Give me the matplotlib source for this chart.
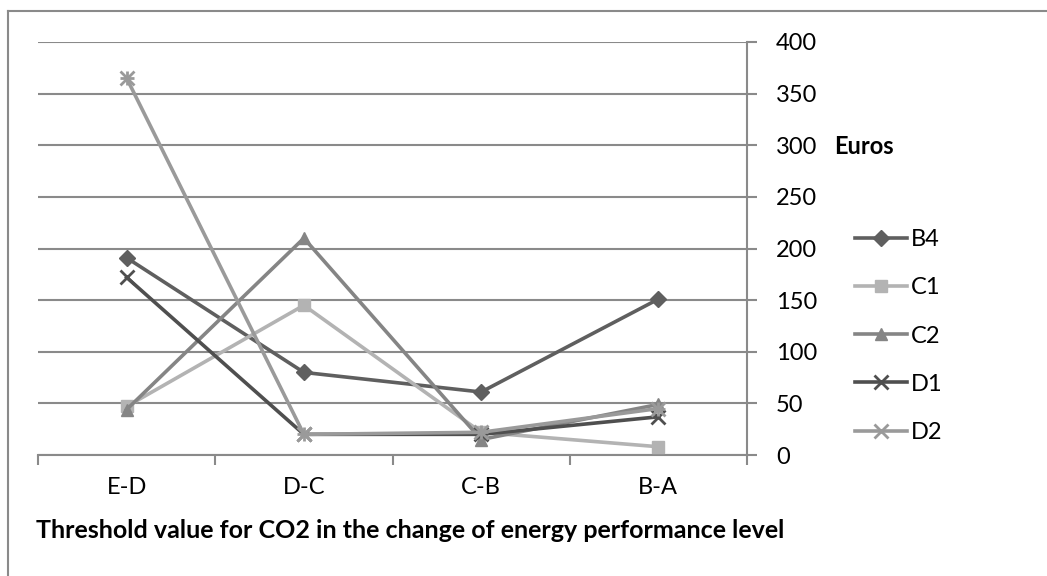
import matplotlib
matplotlib.use("Agg")
import matplotlib.pyplot as plt
from matplotlib.lines import Line2D

# data
categories = ["E-D", "D-C", "C-B", "B-A"]
b4 = [191, 80, 61, 151]
c1 = [47, 145, 22, 8]
c2 = [44, 210, 15, 49]
d1 = [172, 20, 20, 37]
d2 = [365, 20, 22, 45]
y_ticks = [0, 50, 100, 150, 200, 250, 300, 350, 400]

series = [
    ("B4", b4, "#5f5f5f", "D", 8),
    ("C1", c1, "#b3b3b3", "s", 9),
    ("C2", c2, "#858585", "^", 9),
    ("D1", d1, "#4f4f4f", "x", 10),
    ("D2", d2, "#9a9a9a", "x", 10),
]

plt.rcParams['font.family'] = ['Lato', 'DejaVu Sans']

fig = plt.figure(figsize=(10.47, 5.76), dpi=100)
ax = fig.add_axes([38 / 1047, 1 - 455 / 576, 709 / 1047, 413 / 576])

x = list(range(len(categories)))
for name, vals, col, mk, ms in series:
    ax.plot(x, vals, color=col, lw=2.6, marker=mk, ms=ms, mew=2 if mk == "x" else 1,
            mec=col, mfc=col, label=name, zorder=3)
# D2 gets an asterisk: add a plus over the x marker
ax.plot(x, d2, ls="none", marker="+", ms=10, mew=2, color="#9a9a9a", zorder=3)

ax.set_xlim(-0.5, 3.5)
ax.set_ylim(0, 400)
ax.set_yticks(y_ticks)
ax.yaxis.tick_right()
ax.grid(axis="y", color="#8a8a8a", lw=1.5)
ax.set_axisbelow(True)
for s in ["top", "left"]:
    ax.spines[s].set_visible(False)
for s in ["right", "bottom"]:
    ax.spines[s].set_color("#8a8a8a")
    ax.spines[s].set_linewidth(1.5)

ax.set_xticks(x)
ax.set_xticklabels(categories)
ax.set_xticks([-0.5, 0.5, 1.5, 2.5, 3.5], minor=True)
ax.tick_params(axis="x", which="major", length=0, pad=16, labelsize=17)
ax.tick_params(axis="x", which="minor", length=7, width=1.5, color="#8a8a8a")
ax.tick_params(axis="y", length=7, width=1.5, color="#8a8a8a", pad=14, labelsize=17)

fig.text(410 / 1047, 1 - 531 / 576, "Threshold value for CO2 in the change of energy performance level",
         ha="center", va="center", fontsize=18, fontweight="bold")
fig.text(834 / 1047, 1 - 147 / 576, "Euros", ha="left", va="center", fontsize=17, fontweight="bold")

handles = []
for name, vals, col, mk, ms in series:
    handles.append(Line2D([], [], color=col, lw=2.6, marker=mk, ms=ms,
                          mew=2 if mk == "x" else 1, mec=col, mfc=col))
fig.legend(handles, [s[0] for s in series], loc="upper left",
           bbox_to_anchor=(834 / 1047, 1 - 208 / 576), frameon=False,
           fontsize=17, handlelength=2.2, handletextpad=0.15, labelspacing=1.15)

# border of the chart area
fig.add_artist(Line2D([7.5 / 1047, 7.5 / 1047], [0, 1 - 11 / 576], color="#8a8a8a", lw=1.5))
fig.add_artist(Line2D([7.5 / 1047, 1], [1 - 11 / 576, 1 - 11 / 576], color="#8a8a8a", lw=1.5))

fig.savefig("out.png", dpi=100)
